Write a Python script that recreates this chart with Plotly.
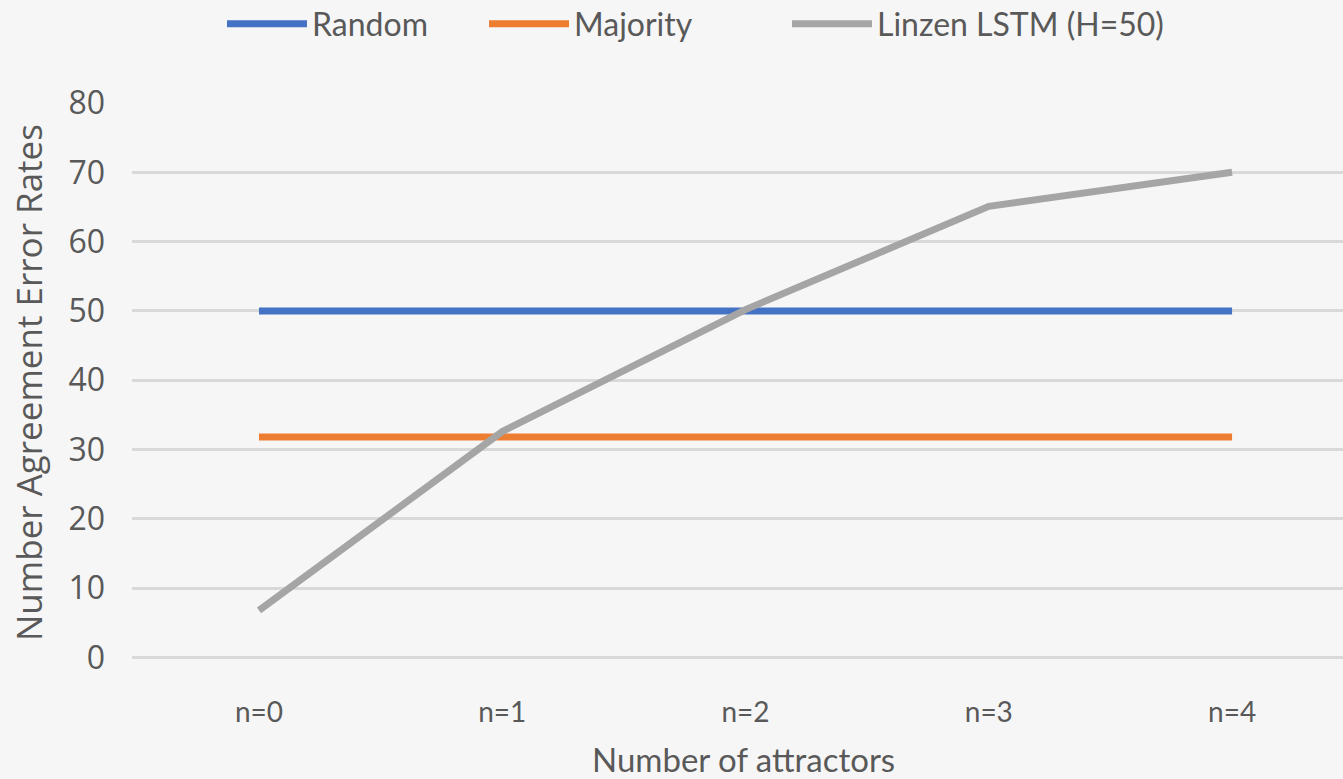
import plotly.graph_objects as go

# Number of attractors between subject and verb
categories = ["n=0", "n=1", "n=2", "n=3", "n=4"]

# Error rates (%) per attractor count
random_rate = [50, 50, 50, 50, 50]
majority_rate = [31.8, 31.8, 31.8, 31.8, 31.8]
lstm_rate = [6.8, 32.6, 50.2, 65.1, 70.0]

y_ticks = [0, 10, 20, 30, 40, 50, 60, 70, 80]

series = [
    ("Random", random_rate, "#4472C4"),
    ("Majority", majority_rate, "#ED7D31"),
    ("Linzen LSTM (H=50)", lstm_rate, "#A5A5A5"),
]

text_color = "#595959"
label_font = "Lato, Carlito, Calibri, sans-serif"
body_font = "Open Sans, Noto Sans, sans-serif"

# one legend box per series so each entry sits at its own left edge
legend_ids = ["legend", "legend2", "legend3"]
legend_left = [222, 484, 787]

fig = go.Figure()
for (name, values, color), lid in zip(series, legend_ids):
    fig.add_trace(go.Scatter(
        x=categories, y=values, name=name, mode="lines",
        line=dict(color=color, width=7), legend=lid,
    ))

# legend row centred 24 px below the top of the page
legend_style = dict(
    orientation="h", xref="container", xanchor="left",
    y=1 - 24 / 779, yref="container", yanchor="middle",
    font=dict(family=label_font, size=32, color=text_color),
    itemwidth=80, itemsizing="trace", bgcolor="rgba(0,0,0,0)",
)

fig.update_layout(
    width=1343, height=779,
    margin=dict(l=132, r=0, t=103, b=118),
    paper_bgcolor="#f6f6f6", plot_bgcolor="#f6f6f6",
    showlegend=True,
    legend=dict(legend_style, x=legend_left[0] / 1343),
    legend2=dict(legend_style, x=legend_left[1] / 1343),
    legend3=dict(legend_style, x=legend_left[2] / 1343),
    xaxis=dict(
        type="category", range=[-0.522, 4.456],
        showgrid=False, zeroline=False, showline=False, ticks="",
        tickfont=dict(family=label_font, size=28, color=text_color),
        ticklabelstandoff=32,
    ),
    yaxis=dict(
        range=[-0.5, 80], tickvals=y_ticks,
        showgrid=True, gridcolor="#d9d9d9", gridwidth=3,
        zeroline=False, showline=False, ticks="",
        tickfont=dict(family=body_font, size=32, color=text_color),
        ticklabelstandoff=26,
    ),
    annotations=[
        dict(text="Number of attractors", xref="paper", yref="paper",
             x=(743 - 132) / 1211, y=-(756 - 658) / 558, xanchor="center", yanchor="middle",
             showarrow=False,
             font=dict(family=label_font, size=33, color=text_color)),
        dict(text="Number Agreement Error Rates", xref="paper", yref="paper",
             x=-(132 - 28) / 1211, y=(658 - 380) / 558, xanchor="center", yanchor="middle",
             textangle=-90, showarrow=False,
             font=dict(family=body_font, size=35, color=text_color)),
    ],
)

fig.write_html("out.html")
